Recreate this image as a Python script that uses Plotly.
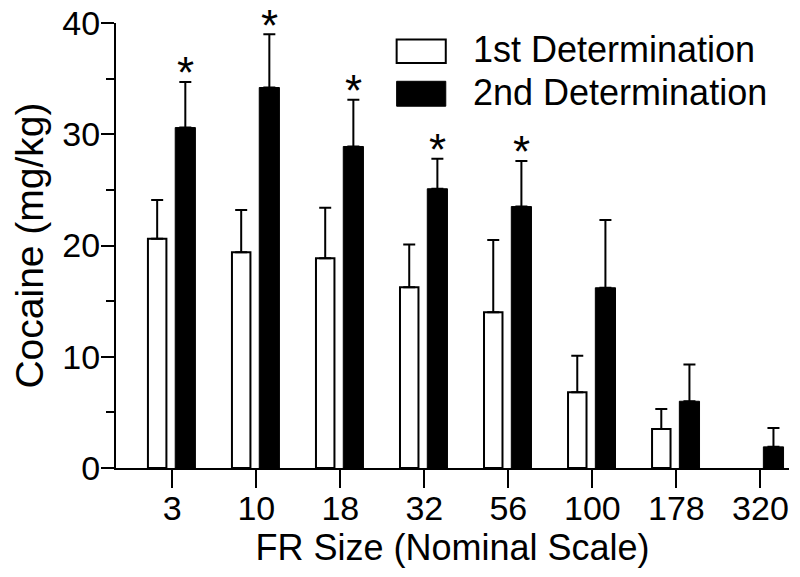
import plotly.graph_objects as go

categories = ['3', '10', '18', '32', '56', '100', '178', '320']
first_mean = [20.6, 19.4, 18.85, 16.25, 14.0, 6.8, 3.5, None]
first_err = [3.5, 3.8, 4.55, 3.85, 6.5, 3.3, 1.8, None]
second_mean = [30.6, 34.2, 28.9, 25.1, 23.5, 16.2, 6.0, 1.9]
second_err = [4.1, 4.8, 4.2, 2.7, 4.1, 6.1, 3.3, 1.7]
significant = [True, True, True, True, True, False, False, False]
y_ticks = [0, 10, 20, 30, 40]

FONT = "Liberation Sans, Arial, sans-serif"

fig = go.Figure()
fig.add_trace(go.Bar(
    x=categories, y=first_mean, name='1st Determination',
    width=0.22, offset=-0.29,
    marker=dict(color='white', line=dict(color='black', width=2)),
    error_y=dict(type='data', symmetric=False, array=first_err,
                 arrayminus=[0] * len(categories),
                 color='black', thickness=2, width=6),
))
fig.add_trace(go.Bar(
    x=categories, y=second_mean, name='2nd Determination',
    width=0.24, offset=0.035,
    marker=dict(color='black', line=dict(color='black', width=1)),
    error_y=dict(type='data', symmetric=False, array=second_err,
                 arrayminus=[0] * len(categories),
                 color='black', thickness=2, width=6),
))

# significance asterisks above the 2nd determination error bars
for i, (c, m, e, s) in enumerate(zip(categories, second_mean, second_err, significant)):
    if s:
        fig.add_annotation(x=i + 0.155, y=m + e, xref='x', yref='y', text='*',
                           showarrow=False, yanchor='middle', yshift=9,
                           font=dict(family=FONT, size=44, color='black'))

# legend drawn manually (large swatches)
fig.add_shape(type='rect', xref='paper', yref='paper', x0=0.417, x1=0.490, y0=0.910, y1=0.963,
              line=dict(color='black', width=2), fillcolor='white')
fig.add_shape(type='rect', xref='paper', yref='paper', x0=0.417, x1=0.490, y0=0.813, y1=0.869,
              line=dict(color='black', width=1), fillcolor='black')
fig.add_annotation(x=0.527, y=0.940, xref='paper', yref='paper', text='1st Determination',
                   showarrow=False, xanchor='left', yanchor='middle',
                   font=dict(family=FONT, size=36, color='black'))
fig.add_annotation(x=0.527, y=0.844, xref='paper', yref='paper', text='2nd Determination',
                   showarrow=False, xanchor='left', yanchor='middle',
                   font=dict(family=FONT, size=36, color='black'))

# page body has an 8px default margin, so the figure is sized to fit the window
fig.update_layout(
    width=792, height=569,
    margin=dict(l=108, r=11, t=15, b=109, autoexpand=False),
    plot_bgcolor='white', paper_bgcolor='white',
    barmode='overlay', showlegend=False,
    font=dict(family=FONT, color='black'),
)
fig.update_xaxes(
    type='category', range=[-0.67, 7.34], automargin=False,
    showline=True, linecolor='black', linewidth=2,
    ticks='outside', ticklen=18, tickwidth=2, tickcolor='black',
    tickfont=dict(family=FONT, size=34, color='black'), ticklabelstandoff=-9,
    ticklabeloverflow='allow',
    showgrid=False, zeroline=False,
    title=dict(text='FR Size (Nominal Scale)', font=dict(family=FONT, size=36, color='black'), standoff=2),
)
fig.update_yaxes(
    range=[0, 40], tickvals=y_ticks, automargin=False,
    showline=True, linecolor='black', linewidth=2,
    ticks='outside', ticklen=13, tickwidth=2, tickcolor='black',
    minor=dict(dtick=5, ticks='outside', ticklen=8, tickwidth=2, tickcolor='black'),
    tickfont=dict(family=FONT, size=34, color='black'), ticklabelstandoff=-6,
    ticklabeloverflow='allow',
    showgrid=False, zeroline=False,
    title=dict(text='Cocaine (mg/kg)', font=dict(family=FONT, size=39, color='black'), standoff=19),
)

fig.write_html("out.html")
